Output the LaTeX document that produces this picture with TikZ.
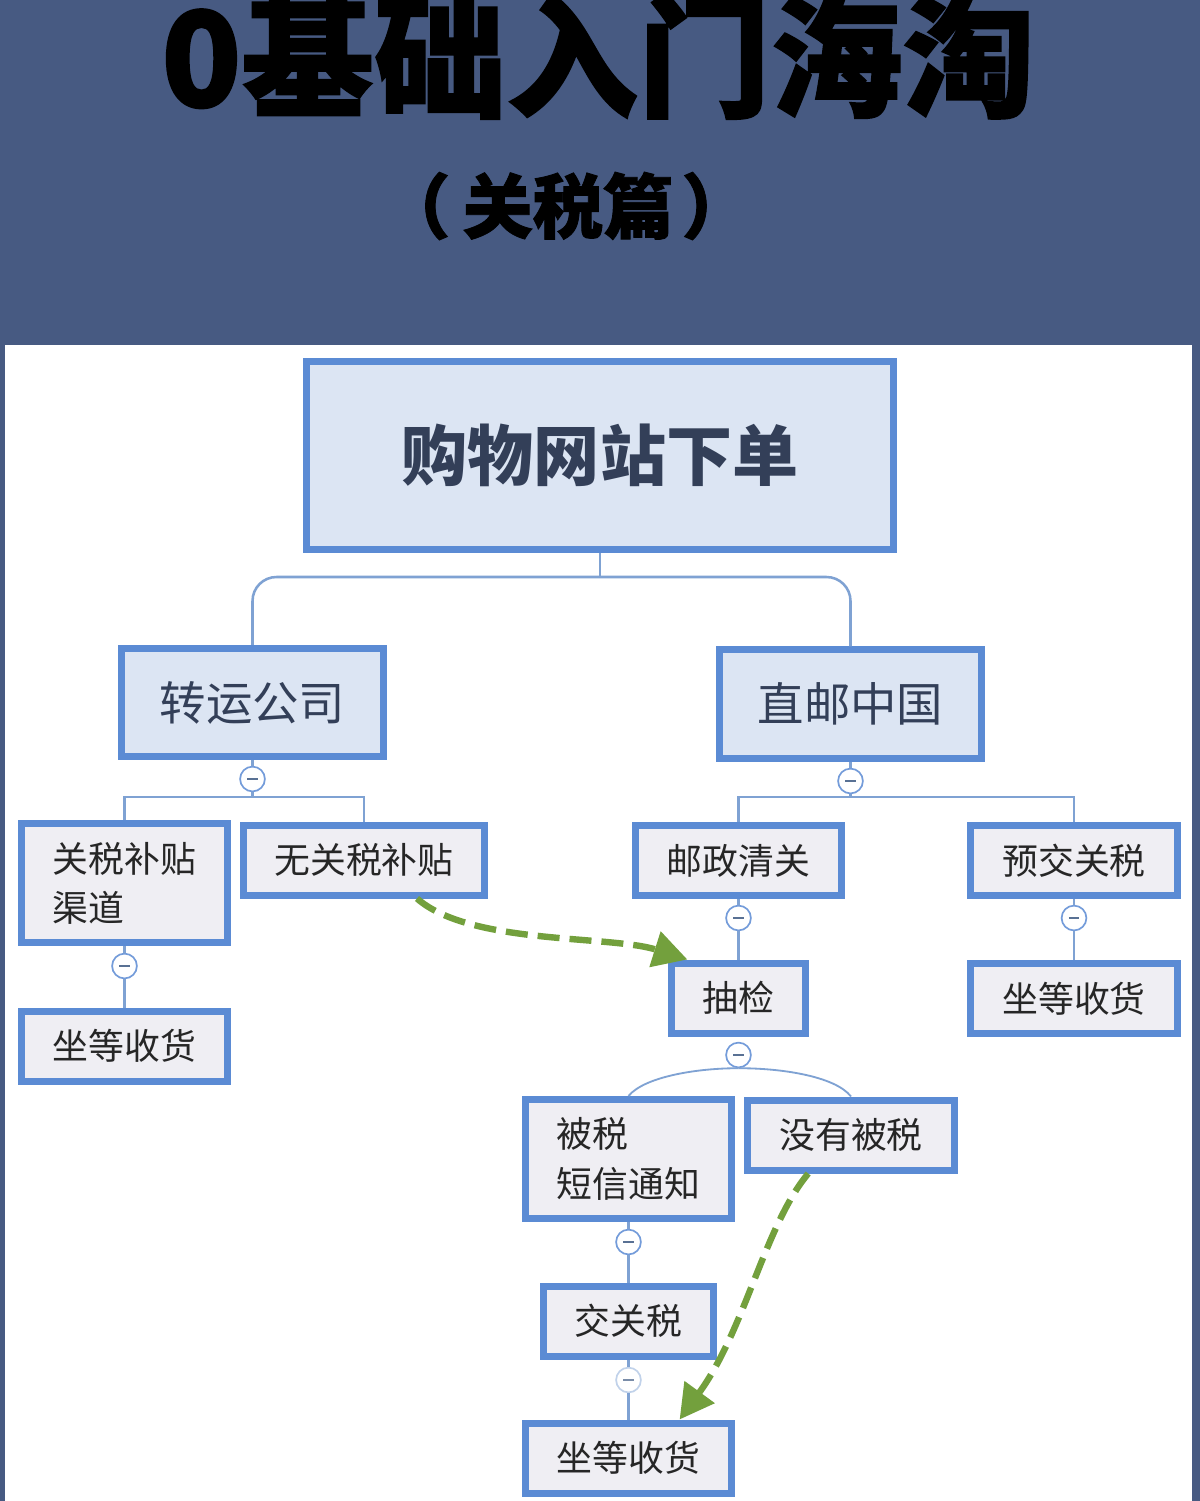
\documentclass[tikz,border=0pt]{standalone}
\usepackage{fontspec}
\newfontfamily\cjk{Noto Sans CJK SC}
\newfontfamily\cjkheavy{Noto Sans CJK SC}[FakeBold=1.2]
\usepackage{xcolor}
\usetikzlibrary{arrows.meta, positioning}

\definecolor{bandblue}{HTML}{475A82}
\definecolor{frameblue}{HTML}{5B8BD4}
\definecolor{linkblue}{HTML}{7FA2D3}
\definecolor{groupfill}{HTML}{DCE5F3}
\definecolor{leaffill}{HTML}{EFEEF3}
\definecolor{inkslate}{HTML}{333F58}
\definecolor{jumpgreen}{HTML}{73A03D}

\begin{document}
\begin{tikzpicture}[
    x=0.025cm, y=-0.025cm,
    rootbox/.style={
        rectangle,
        draw=frameblue,
        line width=0.175cm,
        fill=groupfill,
        minimum width=14.675cm,
        minimum height=4.7cm,
        text=inkslate,
        font=\cjk\bfseries\fontsize{47}{50}\selectfont
    },
    groupbox/.style={
        rectangle,
        draw=frameblue,
        line width=0.175cm,
        fill=groupfill,
        minimum width=6.55cm,
        minimum height=2.7cm,
        text=inkslate,
        font=\cjk\fontsize{33}{36}\selectfont
    },
    leafbox/.style={
        rectangle,
        draw=frameblue,
        line width=0.175cm,
        fill=leaffill,
        minimum width=5.15cm,
        minimum height=1.75cm,
        text=black!85,
        font=\cjk\fontsize{25.5}{35}\selectfont
    },
    fold/.style={
        circle,
        draw=frameblue!85,
        line width=1.2pt,
        fill=white,
        minimum size=0.62cm,
        inner sep=0pt,
        path picture={\draw[linkblue!70!black, line width=1.1pt]
            ([xshift=-0.13cm]path picture bounding box.center) --
            ([xshift=0.13cm]path picture bounding box.center);}
    },
    link/.style={draw=linkblue, line width=1.8pt},
    jump/.style={
        jumpgreen,
        line width=0.16cm,
        dash pattern=on 0.55cm off 0.25cm,
        -{Triangle[length=0.85cm, width=0.9cm]}
    }
]
\useasboundingbox (0,0) rectangle (1200,1501);

% Header band
\fill[bandblue] (0,0) rectangle (1200,1501);
\fill[white] (5,345) rectangle (1192,1501);

\node[text=black, font=\cjkheavy\bfseries\fontsize{94}{94}\selectfont] (title) at (598,56) {0基础入门海淘};
\node[text=black, font=\cjkheavy\bfseries\fontsize{50}{50}\selectfont] (subtitle) at (566,206) {（\hspace{0.3cm}关税篇\hspace{0.2cm}）};

% Top level
\node[rootbox] (root) at (600,455.5) {购物网站下单};
\node[groupbox] (zy) at (252.5,702.5) {转运公司};
\node[groupbox] (zm) at (850.5,704) {直邮中国};

\coordinate (hub) at (600,577);
\draw[link] (root.south) -- (hub);
\draw[link, rounded corners=0.6cm] (zy.north) |- (hub) -| (zm.north);

% Transfer company side
\node[fold] (f1) at (252.5,779) {};
\node[leafbox, minimum height=2.975cm, text width=3.6cm, align=left] (gq) at (124.5,883) {关税补贴\\渠道};
\node[leafbox, minimum width=6.025cm] (wg) at (364,860) {无关税补贴};
\node[fold] (f3) at (124.5,966) {};
\node[leafbox] (sd1) at (124.5,1046) {坐等收货};

\coordinate (barL) at (252.5,797);
\draw[link] (zy.south) -- (f1);
\draw[link] (f1) -- (barL);
\draw[link] (gq.north) |- (barL) -| (wg.north);
\draw[link] (gq.south) -- (f3) -- (sd1.north);

% Direct mail side
\node[fold] (f2) at (850.5,781) {};
\node[leafbox] (yz) at (738.5,860.5) {邮政清关};
\node[leafbox] (yj) at (1074,860.5) {预交关税};
\node[fold] (f4) at (738.5,918) {};
\node[fold] (f5) at (1074,918) {};
\node[leafbox, minimum width=3.325cm] (cj) at (738.5,998) {抽检};
\node[leafbox] (sd2) at (1074,998.5) {坐等收货};

\coordinate (barR) at (850.5,797);
\draw[link] (zm.south) -- (f2);
\draw[link] (f2) -- (barR);
\draw[link] (yz.north) |- (barR) -| (yj.north);
\draw[link] (yz.south) -- (f4) -- (cj.north);
\draw[link] (yj.south) -- (f5) -- (sd2.north);

% Inspection
\node[fold] (f6) at (738.5,1055) {};
\node[leafbox, minimum height=2.975cm, text width=3.6cm, align=left] (bs) at (628.5,1159) {被税\\短信通知};
\node[leafbox] (mb) at (851,1135) {没有被税};
\node[fold] (f7) at (628.5,1242) {};
\node[leafbox, minimum width=4.225cm] (jg) at (628.5,1321) {交关税};
\node[fold, draw=linkblue!60, opacity=0.8] (f8) at (628.5,1380) {};
\node[leafbox] (sd3) at (628.5,1458) {坐等收货};

\draw[link, line width=1.3pt] (f6.south) .. controls (700,1068) and (645,1076) .. (bs.north);
\draw[link, line width=1.3pt] (f6.south) .. controls (780,1068) and (835,1076) .. (mb.north);
\draw[link] (bs.south) -- (f7) -- (jg.north);
\draw[link] (jg.south) -- (f8) -- (sd3.north);

% Shortcuts
\draw[jump] (wg.-36) .. controls (470,945) and (610,935) .. (cj.143);
\draw[jump] (mb.222) .. controls (765,1225) and (745,1330) .. (sd3.37);

\end{tikzpicture}
\end{document}
